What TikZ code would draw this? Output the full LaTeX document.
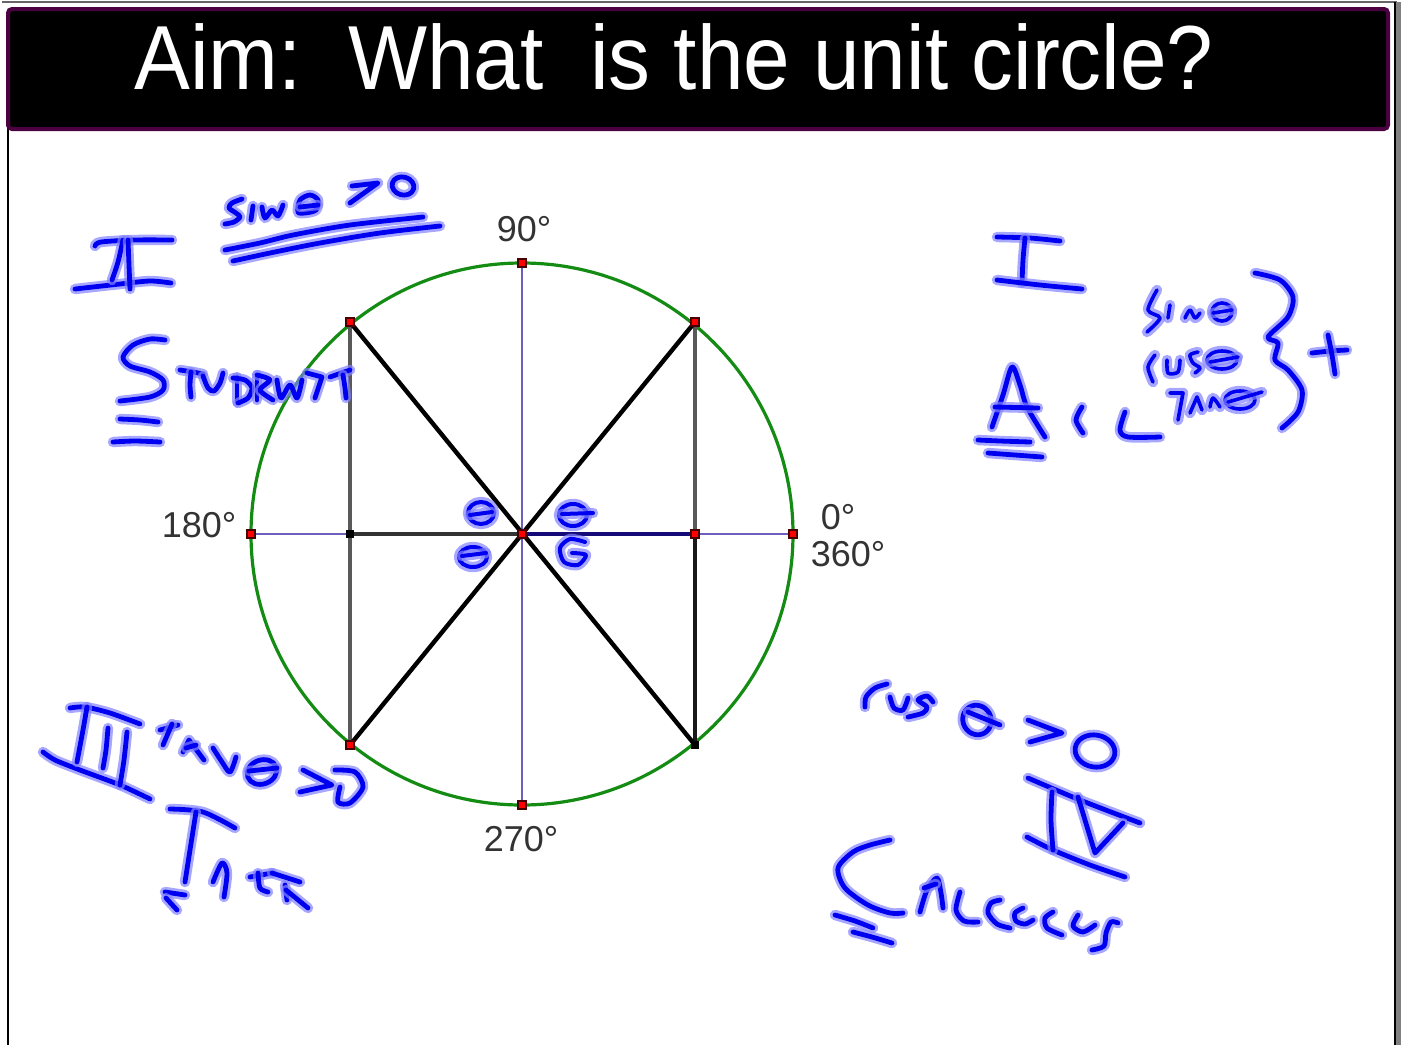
\documentclass[tikz,border=0pt]{standalone}
\usepackage{fontspec}
\setmainfont{Liberation Sans}
\begin{document}
\begin{tikzpicture}[x=0.5pt,y=-0.5pt]
\definecolor{inkblue}{RGB}{0,0,240}
\definecolor{inkglow}{RGB}{130,130,255}
\definecolor{circgreen}{RGB}{20,140,20}
\definecolor{axispurple}{RGB}{110,95,190}
\definecolor{navy}{RGB}{20,10,120}
\definecolor{titleborder}{RGB}{75,0,65}
\definecolor{dotdark}{RGB}{70,0,0}
\tikzset{
  ink/.style={draw=inkblue, line width=2.4pt, line cap=round, line join=round,
    preaction={draw=inkglow, opacity=0.7, line width=5.2pt, line cap=round, line join=round}},
  deglabel/.style={text=black!80, font=\fontsize{18}{20}\selectfont, inner sep=0pt},
  reddot/.style={fill=red, draw=dotdark, line width=0.8pt},
  blackdot/.style={fill=black, draw=black, line width=0.8pt},
  thickseg/.style={line width=2.2pt},
}
\useasboundingbox (0,0) rectangle (1403,1045);
\fill[white] (0,0) rectangle (1403,1045);
% frame
\draw[black!60, line width=0.6pt] (2,2) -- (1397,2);
\draw[black, line width=1pt] (8,128) -- (8,1045);
\fill[black!50] (1396,2) rectangle (1401,1045);
\draw[black, line width=1pt] (1395,2) -- (1395,1045);
% title bar
\node (titlebox) [draw=titleborder, fill=black, line width=2pt, rounded corners=2pt,
  minimum width=690pt, minimum height=60pt, inner sep=0pt] at (698,69) {};
\node (title) [anchor=base, text=white, inner sep=0pt, xscale=0.92,
  font=\fontsize{45.5}{50}\selectfont] at (674,89) {Aim:\ \ What\ \ is the unit circle?};
% unit circle geometry
\coordinate (O) at (522,534);
\coordinate (P90) at (522,263);
\coordinate (P270) at (522,805);
\coordinate (P180) at (251,534);
\coordinate (P0) at (793,534);
\coordinate (Q1) at (695,322);
\coordinate (Q2) at (350,322);
\coordinate (Q3) at (350,745);
\coordinate (Q4) at (695,745);
\coordinate (F2) at (350,534);
\coordinate (F1) at (695,534);
\draw[circgreen, line width=1.6pt] (O) circle [radius=135.5pt];
\draw[axispurple, line width=0.8pt] (P90) -- (P270);
\draw[axispurple, line width=0.9pt] (P180) -- (P0);
\draw[black!80, thickseg] (F2) -- (O);
\draw[navy, thickseg] (O) -- (F1);
\draw[black!65, thickseg] (Q2) -- (Q3);
\draw[black!65, thickseg] (Q1) -- (F1);
\draw[black!90, thickseg] (F1) -- (Q4);
\draw[black, thickseg] (Q2) -- (Q4);
\draw[black, thickseg] (Q1) -- (Q3);
\foreach \p in {P90,P270,P180,P0,Q1,Q2,Q3,O,F1}
  \path[reddot] (\p) ++(-4,-4) rectangle ++(8,8);
\foreach \p in {Q4,F2}
  \path[blackdot] (\p) ++(-3.5,-3.5) rectangle ++(7,7);
% degree labels
\node (l90) [deglabel] at (524,229) {90°};
\node (l180) [deglabel] at (199,525) {180°};
\node (l0) [deglabel] at (838,517) {0°};
\node (l360) [deglabel] at (848,554) {360°};
\node (l270) [deglabel] at (521,839) {270°};
% ---------------- handwriting ----------------
% II
\draw[ink] plot[smooth] coordinates {(95,246)(101,242)(135,240)(172,240)};
\draw[ink] plot[smooth] coordinates {(75,289)(120,284)(150,281)(171,283)};
\draw[ink] plot[smooth] coordinates {(123,240)(118,262)(112,280)};
\draw[ink] plot[smooth] coordinates {(128,240)(129,265)(130,289)};
% sin theta > 0
\draw[ink] plot[smooth] coordinates {(242,199)(232,203)(229,208)(236,213)(240,217)(234,222)(225,224)};
\draw[ink] (253,206) -- (251,220);
\draw[ink] plot[smooth] coordinates {(262,207)(265,218)(272,210)(278,216)(283,205)};
\draw[ink] plot[smooth cycle] coordinates {(298,212)(300,200)(310,195)(318,200)(316,210)(305,213)};
\draw[ink] (300,207) -- (318,205);
\draw[ink] (352,186) -- (378,183) -- (350,203);
\draw[ink, rotate around={-15:(403,186)}] (403,186) ellipse [x radius=5.5pt, y radius=4.5pt];
\draw[ink] plot[smooth] coordinates {(225,250)(260,243)(293,235)(350,225)(423,217)};
\draw[ink] plot[smooth] coordinates {(233,261)(270,253)(320,243)(380,233)(440,226)};
% STUDENTS
\draw[ink] plot[smooth] coordinates {(165,340)(150,339)(133,345)(123,357)(130,366)(150,372)(163,380)(163,390)(150,397)(120,401)};
\draw[ink] plot[smooth] coordinates {(120,419)(140,420)(158,422)};
\draw[ink] plot[smooth] coordinates {(113,442)(135,441)(160,442)};
\draw[ink] plot[smooth] coordinates {(180,370)(193,372)(203,374)};
\draw[ink] plot[smooth] coordinates {(191,372)(190,385)(191,397)};
\draw[ink] plot[smooth] coordinates {(203,376)(208,388)(214,391)(220,383)(223,373)};
\draw[ink] (237,377) -- (237,402);
\draw[ink] plot[smooth] coordinates {(233,378)(245,380)(252,388)(248,398)(238,403)};
\draw[ink] (257,375) -- (257,400);
\draw[ink] plot[smooth] coordinates {(257,375)(270,380)(260,390)(273,400)};
\draw[ink] plot[smooth] coordinates {(277,380)(281,398)(290,385)(297,398)(302,380)};
\draw[ink] (307,373) -- (322,377) -- (315,398);
\draw[ink] (330,377) -- (350,370);
\draw[ink] plot[smooth] coordinates {(343,375)(345,388)(346,398)};
% III tan theta > 0, Take
\draw[ink] plot[smooth] coordinates {(70,708)(85,707)(110,713)(140,724)};
\draw[ink] plot[smooth] coordinates {(43,752)(55,760)(80,770)(120,785)(150,799)};
\draw[ink] plot[smooth] coordinates {(87,707)(83,730)(77,762)};
\draw[ink] plot[smooth] coordinates {(108,728)(106,750)(103,768)};
\draw[ink] plot[smooth] coordinates {(127,732)(124,760)(120,785)};
\draw[ink] (160,730) -- (178,725);
\draw[ink] (172,724) -- (163,745);
\draw[ink] (183,752) -- (189,740) -- (204,760);
\draw[ink] (186,748) -- (196,745);
\draw[ink] plot[smooth] coordinates {(213,748)(222,762)(230,772)(236,757)};
\draw[ink, rotate around={20:(262,772)}] (262,772) ellipse [x radius=7.5pt, y radius=6pt];
\draw[ink] (249,771) -- (277,768);
\draw[ink] (303,770) -- (332,785) -- (300,792);
\draw[ink] plot[smooth] coordinates {(335,770)(355,772)(363,787)(350,803)(338,802)(340,787)};
\draw[ink] plot[smooth] coordinates {(170,809)(203,812)(235,828)};
\draw[ink] plot[smooth] coordinates {(196,812)(190,850)(185,882)};
\draw[ink] (165,892) -- (185,895);
\draw[ink] (166,898) -- (177,910);
\draw[ink] plot[smooth] coordinates {(213,882)(222,863)(227,873)(224,897)};
\draw[ink] (250,877) -- (272,873);
\draw[ink] plot[smooth] coordinates {(258,873)(260,888)(268,892)};
\draw[ink] (272,873) -- (300,882);
\draw[ink] (285,885) -- (287,900);
\draw[ink] (286,890) -- (308,908);
% I
\draw[ink] plot[smooth] coordinates {(997,237)(1030,238)(1060,241)};
\draw[ink] plot[smooth] coordinates {(1025,238)(1023,260)(1022,283)};
\draw[ink] plot[smooth] coordinates {(997,280)(1040,285)(1082,289)};
% A ll
\draw[ink] plot[smooth] coordinates {(992,427)(1003,395)(1012,367)(1020,385)(1027,407)(1045,437)};
\draw[ink] (995,407) -- (1038,408);
\draw[ink] plot[smooth] coordinates {(978,440)(1000,441)(1030,442)};
\draw[ink] plot[smooth] coordinates {(988,453)(1015,455)(1042,457)};
\draw[ink] plot[smooth] coordinates {(1082,407)(1076,420)(1083,433)};
\draw[ink] plot[smooth] coordinates {(1125,412)(1120,430)(1128,437)(1160,437)};
% sin cos tan
\draw[ink, line width=1.8pt] plot[smooth] coordinates {(1157,290)(1148,310)(1160,318)(1147,332)};
\draw[ink, line width=1.8pt] (1170,305) -- (1168,318);
\draw[ink, line width=1.8pt] plot[smooth] coordinates {(1185,318)(1190,310)(1195,318)(1200,313)};
\draw[ink, line width=1.8pt] (1222,312) ellipse [x radius=5pt, y radius=4.5pt];
\draw[ink, line width=1.8pt] (1213,313) -- (1232,310);
\draw[ink, line width=1.8pt] plot[smooth] coordinates {(1155,355)(1148,367)(1153,382)};
\draw[ink, line width=1.8pt] plot[smooth] coordinates {(1167,360)(1168,373)(1178,372)(1180,360)};
\draw[ink, line width=1.8pt] plot[smooth] coordinates {(1198,352)(1190,355)(1193,363)(1200,368)(1195,373)};
\draw[ink, line width=1.8pt] (1222,360) ellipse [x radius=7.5pt, y radius=4.5pt];
\draw[ink, line width=1.8pt] (1210,362) -- (1238,357);
\draw[ink, line width=1.8pt] (1170,393) -- (1183,393) -- (1178,420);
\draw[ink, line width=1.8pt] (1190,413) -- (1197,397) -- (1202,410);
\draw[ink, line width=1.8pt] plot[smooth] coordinates {(1210,407)(1213,398)(1220,407)};
\draw[ink, line width=1.8pt] (1240,400) ellipse [x radius=7.5pt, y radius=4.5pt];
\draw[ink, line width=1.8pt] (1228,402) -- (1262,392);
\draw[ink] plot[smooth] coordinates {(1255,273)(1280,280)(1293,297)(1288,317)(1268,337)(1278,343)(1275,360)(1288,370)(1302,390)(1298,412)(1282,428)};
\draw[ink] plot[smooth] coordinates {(1312,353)(1330,351)(1347,350)};
\draw[ink] plot[smooth] coordinates {(1328,335)(1332,355)(1335,374)};
% cos theta > 0, IV, Calculus
\draw[ink] plot[smooth] coordinates {(887,684)(875,688)(866,697)(865,707)};
\draw[ink] plot[smooth] coordinates {(890,697)(894,708)(903,710)(908,698)};
\draw[ink] plot[smooth] coordinates {(933,702)(927,696)(918,700)(927,707)(923,713)(908,717)};
\draw[ink, rotate around={30:(977,720)}] (977,720) ellipse [x radius=7pt, y radius=7.5pt];
\draw[ink] (968,712) -- (1000,725);
\draw[ink] (1028,720) -- (1062,733) -- (1030,742);
\draw[ink, rotate around={-10:(1095,751)}] (1095,751) ellipse [x radius=10pt, y radius=8pt];
\draw[ink] plot[smooth] coordinates {(1028,778)(1080,800)(1140,823)};
\draw[ink] plot[smooth] coordinates {(1027,837)(1053,850)(1090,865)(1125,877)};
\draw[ink] plot[smooth] coordinates {(1052,792)(1051,820)(1053,850)};
\draw[ink] (1078,797) -- (1095,853) -- (1123,823);
\draw[ink] plot[smooth] coordinates {(890,840)(870,845)(853,852)(838,868)(845,888)(868,905)(890,913)(903,913)};
\draw[ink] plot[smooth] coordinates {(835,915)(855,921)(873,928)};
\draw[ink] plot[smooth] coordinates {(853,932)(872,937)(892,943)};
\draw[ink] plot[smooth] coordinates {(920,912)(927,890)(937,878)(941,893)(943,908)};
\draw[ink] (924,888) -- (936,884);
\draw[ink] plot[smooth] coordinates {(960,892)(956,910)(964,921)(978,922)};
\draw[ink] plot[smooth] coordinates {(1000,900)(991,903)(988,913)(997,924)(1010,928)};
\draw[ink] plot[smooth] coordinates {(1023,908)(1015,913)(1016,921)(1025,924)(1033,920)};
\draw[ink] plot[smooth] coordinates {(1053,912)(1045,918)(1047,928)(1062,935)};
\draw[ink] plot[smooth] coordinates {(1078,915)(1073,926)(1083,932)(1095,925)};
\draw[ink] plot[smooth] coordinates {(1118,923)(1111,922)(1106,933)(1104,946)(1092,950)};
% thetas at the centre
\draw[ink, line width=2pt] (481,513) ellipse [x radius=6.5pt, y radius=5.5pt];
\draw[ink, line width=2pt] (470,515) -- (492,512);
\draw[ink, line width=2pt] (473,557) ellipse [x radius=7pt, y radius=5pt];
\draw[ink, line width=2pt] (462,556) -- (486,553);
\draw[ink, line width=2pt] (573,515) ellipse [x radius=7pt, y radius=5.5pt];
\draw[ink, line width=2pt] (562,514) -- (593,513);
\draw[ink, line width=2pt] plot[smooth] coordinates {(585,542)(570,539)(560,548)(564,562)(578,565)(586,555)(572,553)};
\end{tikzpicture}
\end{document}
